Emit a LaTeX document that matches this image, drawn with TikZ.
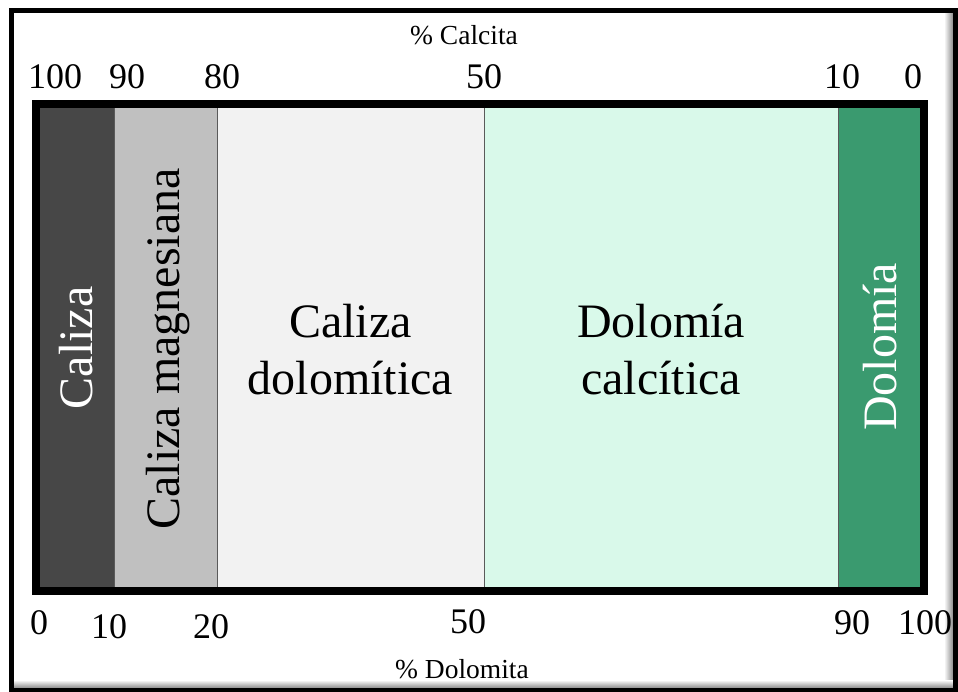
\documentclass[tikz,border=0pt]{standalone}
\usepackage{fontspec}
\setmainfont{Liberation Serif}
\definecolor{cDark}{HTML}{474747}
\definecolor{cGray}{HTML}{C0C0C0}
\definecolor{cLight}{HTML}{F2F2F2}
\definecolor{cMint}{HTML}{D9F9EA}
\definecolor{cGreen}{HTML}{3A9A6F}
\definecolor{cSep}{HTML}{5A5A5A}
\begin{document}
\begin{tikzpicture}[x=1pt,y=-1pt,
  num/.style={font=\fontsize{36}{40}\selectfont, anchor=base, inner sep=0pt},
  axis/.style={font=\fontsize{27.5}{30}\selectfont, anchor=base, inner sep=0pt},
  biglabel/.style={font=\fontsize{48}{57}\selectfont, align=center, inner sep=0pt},
  vlabel/.style={font=\fontsize{48}{57}\selectfont, rotate=90, inner sep=0pt},
  sep/.style={draw=cSep, line width=1pt}]
\useasboundingbox (0,0) rectangle (958,692);
\fill[white] (0,0) rectangle (958,692);
% outer frame with bevel shadow
\fill[left color=white, right color=black!45] (944,13) rectangle (953,688);
\fill[top color=white, bottom color=black!45] (14,680) rectangle (953,688);
\draw[line width=5pt] (11.5,10.5) rectangle (955.5,690);
% columns
\fill[cDark]  (40,108) rectangle (114,587);
\fill[cGray]  (114,108) rectangle (217,587);
\fill[cLight] (217,108) rectangle (484,587);
\fill[cMint]  (484,108) rectangle (838,587);
\fill[cGreen] (838,108) rectangle (920,587);
\coordinate (s1t) at (114,108); \coordinate (s1b) at (114,587);
\coordinate (s2t) at (217,108); \coordinate (s2b) at (217,587);
\coordinate (s3t) at (484,108); \coordinate (s3b) at (484,587);
\coordinate (s4t) at (838,108); \coordinate (s4b) at (838,587);
\draw[sep] (s1t) -- (s1b);
\draw[sep] (s2t) -- (s2b);
\draw[sep] (s3t) -- (s3b);
\draw[sep] (s4t) -- (s4b);
\draw[line width=8pt] (36,104) rectangle (924,591);
% column labels
\node[vlabel, text=white] (caliza) at (76,348) {Caliza};
\node[vlabel] (magn) at (168,349) {Caliza magnesiana};
\node[biglabel] (dolc) at (350.5,350) {Caliza\\dolomítica};
\node[biglabel] (dcal) at (661,350) {Dolomía\\calcítica};
\node[vlabel, text=white] (dolo) at (880,347) {Dolomía};
% top axis
\node[axis] (tcal) at (464,45) {\% Calcita};
\node[num] (t100) at (55,89) {100};
\node[num] (t90) at (127,89) {90};
\node[num] (t80) at (222,89) {80};
\node[num] (t50) at (484,89) {50};
\node[num] (t10) at (842,89) {10};
\node[num] (t0) at (913,89) {0};
% bottom axis
\node[num] (b0) at (39,634) {0};
\node[num] (b10) at (109,638) {10};
\node[num] (b20) at (211,638) {20};
\node[num] (b50) at (468,633) {50};
\node[num] (b90) at (852,634) {90};
\node[num] (b100) at (925,634) {100};
\node[axis] (bdol) at (462,678) {\% Dolomita};
\end{tikzpicture}
\end{document}
